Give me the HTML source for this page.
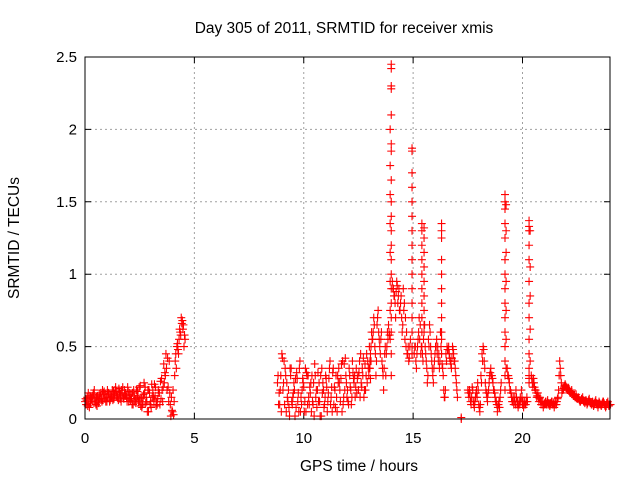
<!DOCTYPE html>
<html><head><meta charset="utf-8"><style>
body{margin:0;background:#fff}
svg{display:block;font-family:"Liberation Sans",sans-serif}
</style></head><body>
<svg id="chart" width="640" height="480">
<text x="344" y="33" font-size="15.5" text-anchor="middle">Day 305 of 2011, SRMTID for receiver xmis</text>
<text x="359" y="471" font-size="15.5" text-anchor="middle">GPS time / hours</text>
<text transform="translate(19,238) rotate(-90)" font-size="15.5" text-anchor="middle">SRMTID / TECUs</text>
<g id="grid"></g><g id="ticks"></g><g id="marks"></g>
<rect x="85" y="57" width="525" height="362" fill="none" stroke="#000"/>
</svg>
<script>
const xTicks=[0,5,10,15,20];
const yTicks=[0,0.5,1,1.5,2,2.5];
const yTickLabels=["0","0.5","1","1.5","2","2.5"];
const segA=[.12,.15,.08,.14,.18,.1,.13,.16,.2,.14,.12,.17,.15,.19,.22,.16,.14,.18,.2,.15,.12,.17,.1,.14,.19,.13,.08,.25,.15,.05,.12,.2,.16,.1,.18,.28,.38,.45,.22,.1,.05,.3,.5,.55,.7,.65];
const segA2=[.1,.18,.11,.16,.13,.09,.17,.14,.18,.12,.15,.13,.2,.17,.16,.21,.12,.15,.18,.22,.14,.1,.16,.2,.12,.09,.15,.22,.05,.18,.24,.13,.09,.2,.26,.12,.32,.2,.4,.15,.03,.45,.48,.6,.68,.58];
const segA3=[.14,.09,.16,.12,.2,.15,.11,.18,.13,.17,.2,.12,.16,.14,.19,.13,.17,.22,.16,.12,.18,.14,.2,.11,.16,.23,.1,.18,.12,.2,.08,.16,.22,.14,.1,.2,.25,.35,.12,.02,.2,.4,.52,.62,.66,.5];
const segA4=[.13,.11,.15,.17,.12,.16,.14,.12,.19,.15,.18,.16,.13,.2,.15,.18,.2,.14,.16,.19,.13,.18,.12,.15,.22,.14,.17,.11,.2,.1,.15,.24,.12,.18,.14,.22,.3,.42,.18,.06,.12,.35,.45,.58,.62,.55];
const segB1=[.25,.1,.45,.4,.05,.2,.3,.15,.02,.28,.35,.1,.22,.05,.3,.18,.12,.38,.08,.25,.02,.2,.3,.12,.4,.05,.22,.15,.35,.28,.1,.42,.2,.3,.15,.25,.35,.2,.45,.3,.38,.25,.5];
const segB2=[.1,.3,.2,.35,.15,.02,.12,.25,.08,.18,.05,.28,.12,.3,.1,.05,.25,.15,.32,.02,.18,.1,.22,.28,.15,.35,.08,.3,.2,.05,.38,.25,.1,.2,.32,.15,.28,.4,.22,.15,.3,.35,.28];
const segB3=[.3,.2,.42,.1,.25,.08,.35,.18,.28,.12,.4,.2,.05,.32,.15,.25,.1,.3,.2,.12,.35,.08,.28,.18,.1,.32,.2,.05,.25,.38,.15,.3,.12,.22,.4,.3,.18,.32,.25,.42,.2,.4,.35];
const segB4=[.18,.05,.25,.3,.12,.35,.1,.2,.32,.05,.15,.25,.35,.1,.22,.3,.02,.2,.12,.3,.25,.15,.05,.35,.22,.1,.3,.25,.12,.4,.2,.15,.35,.1,.28,.22,.3,.15,.35,.2,.45,.3,.4];
const segC=[.35,.45,.6,.55,.7,.5,.3,.65,.75,.55,.45,.6,.35,.2,.45,.3,.5,.55,.6];
const segC2=[.4,.5,.55,.6,.65,.45,.4,.7,.6,.5,.55,.4,.3,.35,.5,.45,.6,.65,.58];
const segD=[.95,.9,.85,.7,.95,.8,.9,.75,.85,.6,.9,.8,.7,.6,.45,.4,.5];
const segD2=[.9,.85,.8,.88,.92,.85,.75,.8,.7,.65,.75,.55,.5,.45,.5,.42,.55];
const segE=[.45,.5,.35,.5,.6,.55,.45,.5,.4,.6,.5,.4,.25,.55,.65,.5,.4,.3,.35,.45,.5,.45,.4,.35,.6,.45,.35,.2,.15,.45,.5,.48,.45,.4,.35,.5,.45,.4,.3,.2];
const segE2=[.5,.4,.45,.55,.7,.65,.5,.45,.55,.65,.45,.35,.3,.5,.6,.45,.35,.25,.4,.5,.55,.5,.45,.4,.5,.38,.3,.15,.2,.4,.48,.5,.42,.38,.42,.48,.4,.35,.25,.15];
const segF=[.2,.15,.18,.1,.22,.12,.08,.15,.2,.25,.1,.05,.3,.45,.5,.4,.25,.18,.12,.2,.3,.35,.3,.25,.2,.15,.12,.05,.1,.08,.2];
const segF2=[.18,.2,.12,.15,.2,.1,.12,.18,.15,.2,.08,.1,.25,.4,.48,.35,.2,.15,.18,.25,.32,.3,.28,.2,.18,.12,.1,.08,.12,.15,.25];
const segG=[.35,.3,.25,.2,.15,.12,.1,.15,.2,.1,.08,.12,.15,.2,.1,.08,.12,.1,.15];
const segG2=[.3,.28,.2,.18,.12,.15,.12,.1,.15,.12,.1,.1,.12,.15,.12,.1,.1,.12,.12];
const segH=[.3,.25,.28,.22,.2,.15,.18,.12,.15,.1,.12,.08,.1,.12,.1,.13,.11,.09,.1,.12,.1,.08,.12,.1,.14,.2,.4,.3,.18,.2,.22,.24,.22,.2,.21,.19,.18,.2,.17,.16,.15,.17,.14,.15,.13,.12,.14,.15,.12,.11,.13,.1,.12,.14,.11,.1,.12,.09,.11,.13,.1,.08,.12,.1,.09,.11,.12,.1,.08,.11,.12,.09,.1];
const segH2=[.28,.22,.25,.2,.18,.16,.15,.14,.12,.12,.1,.1,.11,.1,.12,.1,.1,.11,.12,.1,.11,.1,.1,.12,.15,.3,.35,.25,.2,.21,.23,.23,.21,.2,.2,.18,.19,.17,.16,.16,.15,.15,.14,.14,.12,.13,.13,.13,.12,.12,.12,.11,.13,.12,.11,.11,.1,.1,.12,.11,.1,.1,.11,.1,.1,.12,.11,.09,.09,.11,.1,.1,.1];
const segStarts=[0,0.05,0.025,0.075,8.8,8.85,8.825,8.875,13.0,13.025,14.05,14.075,15.05,15.075,17.5,17.525,19.3,19.325,20.4,20.425];
const segSteps=[0.1,0.1,0.1,0.1,0.1,0.1,0.1,0.1,0.05,0.05,0.05,0.05,0.05,0.05,0.05,0.05,0.05,0.05,0.05,0.05];
const segments=[segA,segA2,segA3,segA4,segB1,segB2,segB3,segB4,segC,segC2,segD,segD2,segE,segE2,segF,segF2,segG,segG2,segH,segH2];
const colTimes=[14.0,13.95,14.95,15.4,15.5,16.3,17.2,19.2,19.25,20.3,20.35];
const colValues=[
[2.45,2.42,2.3,2.28,2.1,1.9,1.85,1.65,1.5,1.4,1.3,1.2,1.1,1.0,0.9,0.8,0.7,0.6,0.45,0.3],
[2.0,1.75,1.55,1.35,1.15,0.95,0.75,0.55],
[1.87,1.85,1.7,1.6,1.5,1.4,1.3,1.2,1.1,1.0,.9,.8,.7,.6,.5,.45],
[1.35,1.3,1.2,1.1,1.0,.9,.8,.7,.6],
[1.32,1.25,1.15,1.05,.95,.85,.75,.65],
[1.35,1.3,1.25,1.1,1.0,.9,.8,.7,.6,.55],
[0,0.01],
[1.55,1.5,1.45,1.35,1.25,1.1,1.0,.9,.8,.7,.6,.5,.4,.3,.2],
[1.48,1.3,1.15,.95,.75,.55,.35],
[1.37,1.33,1.3,1.2,1.1,.95,.8,.7,.55,.45,.35,.3,.28,.25],
[1.3,1.05,.85,.62,.4]];
const X0=85,X1=610,Y0=419,Y1=57;
const xs=t=>X0+(t/24)*(X1-X0);
const ys=v=>Y0-(v/2.5)*(Y0-Y1);
const NS="http://www.w3.org/2000/svg";
function mk(tag,attrs,parent){const e=document.createElementNS(NS,tag);for(const k in attrs)e.setAttribute(k,attrs[k]);parent.appendChild(e);return e;}
const grid=document.getElementById('grid'),ticks=document.getElementById('ticks'),marks=document.getElementById('marks');
xTicks.forEach(t=>{const x=xs(t);
 if(t>0){const g=mk('line',{x1:x,x2:x,y1:Y0,y2:Y1,stroke:'#a0a0a0','stroke-dasharray':'2,3'},grid);
 
 }
 const tk=mk('path',{d:`M${x},${Y0}v-6M${x},${Y1}v6`,stroke:'#000'},ticks);
 
 
 const l=mk('text',{x:x,y:Y0+24,'font-size':15,'text-anchor':'middle'},ticks);l.textContent=t;
 
 });
yTicks.forEach((v,i)=>{const y=ys(v);
 if(v>0&&v<2.5){const g=mk('line',{x1:X0,x2:X1,y1:y,y2:y,stroke:'#a0a0a0','stroke-dasharray':'2,3'},grid);
 
 }
 const tk=mk('path',{d:`M${X0},${y}h6M${X1},${y}h-6`,stroke:'#000'},ticks);
 
 
 const l=mk('text',{x:X0-8,y:y+5,'font-size':15,'text-anchor':'end'},ticks);l.textContent=yTickLabels[i];
 
 });
function plus(t,v){const x=xs(t),y=ys(v);
 const p=mk('path',{d:`M${x-4},${y}h8M${x},${y-4}v8`,stroke:'#f00','stroke-width':1.1},marks);
 
 }
segments.forEach((s,i)=>s.forEach((v,j)=>plus(segStarts[i]+j*segSteps[i],v)));
colTimes.forEach((t,i)=>colValues[i].forEach(v=>plus(t,v)));
</script>
</body></html>
